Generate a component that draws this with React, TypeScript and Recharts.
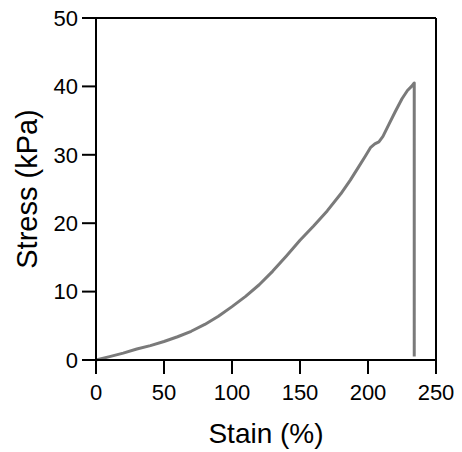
import { LineChart, Line, XAxis, YAxis, ReferenceLine } from 'recharts'

// Strain (%) and stress (kPa)
const strain = [0, 10, 20, 30, 40, 50, 60, 70, 80, 90, 100, 110, 120, 130, 140, 150, 160, 170, 180, 187, 193, 198, 202, 205, 208, 211, 215, 220, 225, 229, 232, 234, 234]
const stress = [0, 0.5, 1.0, 1.6, 2.1, 2.7, 3.4, 4.2, 5.2, 6.4, 7.8, 9.3, 11.0, 13.0, 15.2, 17.5, 19.6, 21.8, 24.3, 26.3, 28.2, 29.8, 31.1, 31.6, 31.9, 32.7, 34.3, 36.3, 38.2, 39.4, 40.0, 40.5, 0.5]

const xTicks = [0, 50, 100, 150, 200, 250]
const yTicks = [0, 10, 20, 30, 40, 50]

const data = strain.map((s, i) => ({ strain: s, stress: stress[i] }))

const FONT = '"Liberation Sans", Arial, Helvetica, sans-serif'
const tickStyle = { fill: '#000', fontSize: 22, fontFamily: FONT }
const axisStroke = { stroke: '#000', strokeWidth: 2 }

export default function App() {
  return (
    <div style={{ position: 'absolute', left: 0, top: 0, background: '#fff' }}>
      <LineChart width={462} height={452} data={data} margin={{ top: 18, right: 26, bottom: 0, left: 0 }}>
        <XAxis
          type="number"
          dataKey="strain"
          domain={[0, 250]}
          ticks={xTicks}
          height={92}
          tickSize={14}
          tickMargin={10}
          tick={tickStyle}
          axisLine={axisStroke}
          tickLine={axisStroke}
          label={{
            value: 'Stain (%)',
            position: 'insideBottom',
            offset: 9,
            style: { fill: '#000', fontSize: 28, fontFamily: FONT },
          }}
        />
        <YAxis
          type="number"
          domain={[0, 50]}
          ticks={yTicks}
          width={96}
          tickSize={14}
          tickMargin={4}
          tick={tickStyle}
          axisLine={axisStroke}
          tickLine={axisStroke}
          label={{
            value: 'Stress (kPa)',
            angle: -90,
            position: 'insideLeft',
            offset: 27,
            style: { textAnchor: 'middle', fill: '#000', fontSize: 29, fontFamily: FONT },
          }}
        />
        {/* box edges on top and right */}
        <ReferenceLine y={50} stroke="#000" strokeWidth={2} />
        <ReferenceLine x={250} stroke="#000" strokeWidth={2} />
        <Line
          type="linear"
          dataKey="stress"
          stroke="#7a7a7a"
          strokeWidth={3}
          strokeLinejoin="round"
          dot={false}
          isAnimationActive={false}
        />
      </LineChart>
    </div>
  )
}
